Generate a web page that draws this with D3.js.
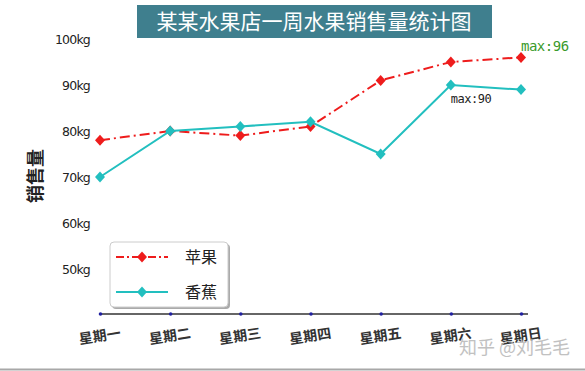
<!DOCTYPE html>
<html>
<head>
<meta charset="utf-8">
<script src="https://cdn.jsdelivr.net/npm/d3@7"></script>
<style>
body { margin: 0; background: #fff; }
svg { display: block; }
</style>
</head>
<body>
<script>
var days = ["星期一", "星期二", "星期三", "星期四", "星期五", "星期六", "星期日"];
var apple = [78, 80, 79, 81, 91, 95, 96];
var banana = [70, 80, 81, 82, 75, 90, 89];
var yTicks = [50, 60, 70, 80, 90, 100];

var w = 585, h = 371;
var font = "'Noto Sans CJK SC', sans-serif";
var svg = d3.select("body").append("svg").attr("width", w).attr("height", h);

var x = d3.scalePoint().domain(days).range([100, 521]);
var y = d3.scaleLinear().domain([40, 100]).range([315, 39]);

// bottom border line
svg.append("line").attr("x1", 0).attr("x2", w).attr("y1", 369.5).attr("y2", 369.5)
    .attr("stroke", "#a8a8a8").attr("stroke-width", 2);

// title
svg.append("rect").attr("x", 137).attr("y", 5).attr("width", 355).attr("height", 33)
    .attr("fill", "#3f7f8e");
svg.append("text").attr("x", 314).attr("y", 29).attr("text-anchor", "middle")
    .attr("font-family", font).attr("font-size", 21).attr("fill", "#fff")
    .text("某某水果店一周水果销售量统计图");

// y tick labels (no axis line)
var yAxis = svg.append("g").attr("transform", "translate(90,0)")
    .call(d3.axisLeft(y).tickValues(yTicks).tickSize(0).tickPadding(0)
        .tickFormat(function (d) { return d + "kg"; }));
yAxis.select(".domain").remove();
yAxis.selectAll("text").attr("font-family", "'DejaVu Sans', sans-serif")
    .attr("font-size", 12.5).attr("fill", "#222").attr("letter-spacing", -0.8);

// y label
svg.append("text").attr("transform", "translate(42,176) rotate(-90)")
    .attr("text-anchor", "middle").attr("font-family", font).attr("font-size", 18)
    .attr("font-weight", "bold").attr("fill", "#222").text("销售量");

// x axis
var xAxis = svg.append("g").attr("transform", "translate(0,314)")
    .call(d3.axisBottom(x).tickSize(0).tickPadding(0));
xAxis.select(".domain").attr("d", "M100,0H528").attr("stroke", "#333").attr("stroke-width", 1.5);
xAxis.selectAll(".tick").append("circle").attr("r", 1.8).attr("fill", "#2020a0");
xAxis.selectAll("text").attr("font-family", font).attr("font-size", 14)
    .attr("font-weight", "bold").attr("fill", "#333")
    .attr("text-anchor", "middle").attr("dy", 0)
    .attr("transform", "translate(0,27) rotate(-9)");

// lines
var line = d3.line().x(function (d, i) { return x(days[i]); }).y(function (d) { return y(d); });
var diamond = "M0,-5.5L5,0L0,5.5L-5,0Z";

svg.append("path").datum(apple).attr("d", line).attr("fill", "none")
    .attr("stroke", "#ee1c1c").attr("stroke-width", 2).attr("stroke-dasharray", "10,4,2,4");
svg.selectAll(".pa").data(apple).enter().append("path").attr("class", "pa")
    .attr("d", diamond).attr("fill", "#ee1c1c")
    .attr("transform", function (d, i) { return "translate(" + x(days[i]) + "," + y(d) + ")"; });

svg.append("path").datum(banana).attr("d", line).attr("fill", "none")
    .attr("stroke", "#22bfbf").attr("stroke-width", 2);
svg.selectAll(".pb").data(banana).enter().append("path").attr("class", "pb")
    .attr("d", diamond).attr("fill", "#22bfbf")
    .attr("transform", function (d, i) { return "translate(" + x(days[i]) + "," + y(d) + ")"; });

// max labels
var mono = "'DejaVu Sans Mono', monospace";
svg.append("text").attr("x", x(days[6])).attr("y", 51).attr("font-family", mono)
    .attr("font-size", 14).attr("fill", "#3a9a2a").attr("letter-spacing", -0.5)
    .text("max:" + d3.max(apple));
svg.append("text").attr("x", x(days[5])).attr("y", 103).attr("font-family", mono)
    .attr("font-size", 12).attr("fill", "#222").attr("letter-spacing", -0.5)
    .text("max:" + d3.max(banana));

// legend
var lg = svg.append("g").attr("transform", "translate(110,242)");
lg.append("rect").attr("x", 2).attr("y", 2).attr("width", 118).attr("height", 65).attr("rx", 4)
    .attr("fill", "#aaa");
lg.append("rect").attr("width", 118).attr("height", 65).attr("rx", 4)
    .attr("fill", "#fff").attr("stroke", "#ccc");
var entries = [
    {name: "苹果", color: "#ee1c1c", dash: "8,3,2,3"},
    {name: "香蕉", color: "#22bfbf", dash: null}
];
entries.forEach(function (e, i) {
    var cy = 15 + i * 35;
    lg.append("line").attr("x1", 6).attr("x2", 58).attr("y1", cy).attr("y2", cy)
        .attr("stroke", e.color).attr("stroke-width", 2).attr("stroke-dasharray", e.dash);
    lg.append("path").attr("d", diamond).attr("fill", e.color)
        .attr("transform", "translate(32," + cy + ")");
    lg.append("text").attr("x", 75).attr("y", cy + 6).attr("font-family", font)
        .attr("font-size", 16).attr("fill", "#222").text(e.name);
});

// watermark
svg.append("text").attr("x", 459).attr("y", 354).attr("font-family", font)
    .attr("font-size", 18).attr("fill", "#bbb").attr("opacity", 0.9).text("知乎 @刘毛毛");
</script>
</body>
</html>
